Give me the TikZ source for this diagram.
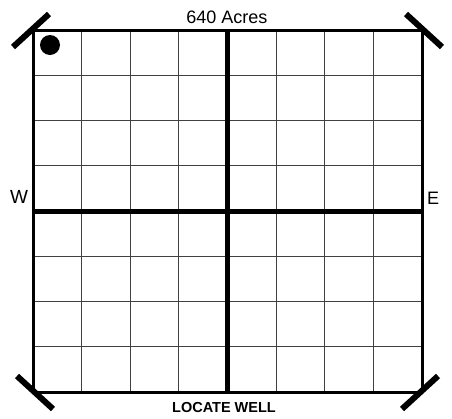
\documentclass[tikz,border=0pt]{standalone}
\usepackage{fontspec}
\setmainfont{Liberation Sans}
\begin{document}
\begin{tikzpicture}[x=1pt, y=-1pt, line join=round, line cap=butt]
    \useasboundingbox (0,0) rectangle (452,418);
    % section grid
    \foreach \i in {1,...,7} {
        \draw[line width=1pt, black!75] ({33+\i*48.625},30)--({33+\i*48.625},392);
        \draw[line width=1pt, black!75] (33,{30+\i*45.25})--(422,{30+\i*45.25});
    }
    \draw[line width=5pt] (227.5,30)--(227.5,392);
    \draw[line width=5pt] (33,211)--(422,211);
    \draw[line width=3pt] (33,30) rectangle (422,392);
    % corner marks
    \foreach \x/\y/\a in {33/30/1, 422/30/-1, 33/392/-1, 422/392/1}
        \draw[line width=6pt] ({\x-20*\a},{\y+17}) -- ({\x+16*\a},{\y-16});
    \fill (50,45) circle (10);
    \node[font=\fontsize{18}{20}\selectfont, anchor=base] (acres) at (227,23) {640 Acres};
    \node[font=\fontsize{14.5}{16}\bfseries\selectfont, anchor=base] (well) at (224,412) {LOCATE WELL};
    \node[font=\fontsize{19}{20}\selectfont, anchor=base] (west) at (19,203) {W};
    \node[font=\fontsize{18}{20}\selectfont, anchor=base] (east) at (433,204) {E};
\end{tikzpicture}
\end{document}
